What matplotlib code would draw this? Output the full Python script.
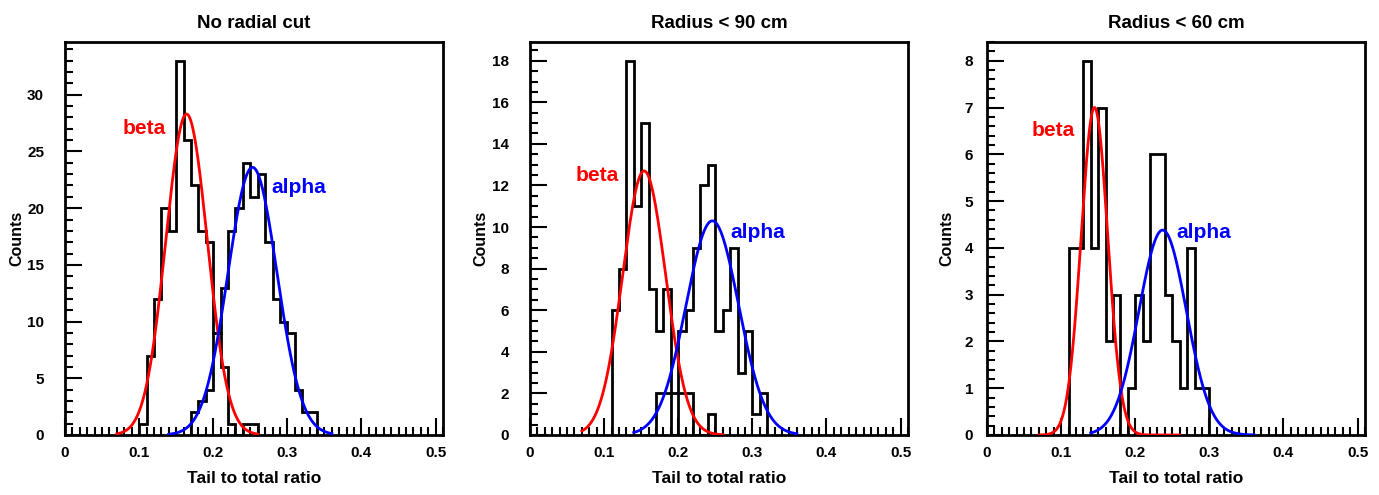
import numpy as np
import matplotlib
matplotlib.use("Agg")
import matplotlib.pyplot as plt
from matplotlib.ticker import MultipleLocator

plt.rcParams['font.family'] = ['Liberation Sans', 'DejaVu Sans']
plt.rcParams['font.weight'] = 'bold'

# panel titles
titles = ["No radial cut", "Radius < 90 cm", "Radius < 60 cm"]

# histogram contents, bin width 0.01, first bin lower edge given
beta_start = [0.10, 0.11, 0.11]
beta_counts = [
    [1, 7, 12, 20, 18, 33, 26, 22, 18, 17, 9, 6, 1, 0, 1, 1],
    [6, 8, 18, 11, 15, 7, 5, 7, 2, 2, 2, 0, 0, 1],
    [4, 4, 8, 4, 7, 2, 3],
]
alpha_start = [0.17, 0.17, 0.18]
alpha_counts = [
    [2, 3, 4, 9, 13, 18, 20, 24, 21, 23, 17, 12, 10, 9, 4, 2, 2],
    [2, 2, 0, 5, 6, 9, 12, 13, 5, 6, 9, 3, 5, 1, 2],
    [0, 1, 3, 2, 6, 6, 3, 2, 1, 4, 1, 1],
]

# gaussian fits: amplitude, mean, sigma
beta_fit = [(28.3, 0.164, 0.028), (12.7, 0.154, 0.029), (7.0, 0.145, 0.018)]
alpha_fit = [(23.6, 0.253, 0.033), (10.3, 0.246, 0.0355), (4.38, 0.237, 0.032)]
beta_range = (0.07, 0.26)
alpha_range = (0.14, 0.36)

# label positions (data coords)
beta_lbl = [(0.078, 27.0), (0.061, 12.5), (0.060, 6.5)]
alpha_lbl = [(0.278, 21.8), (0.271, 9.75), (0.256, 4.32)]

ymax = [34.65, 18.9, 8.4]
ymajor = [5, 2, 1]
yminor = [1, 0.5, 0.2]
ypad = [15, 15, 10]
ylab_x = [-0.108, -0.111, -0.087]

W, H = 1379, 495
fig = plt.figure(figsize=(W / 100, H / 100), dpi=100)
lefts = [65, 530, 987]
width = 378
top, bottom = 42, 435


def gauss(x, a, m, s):
    return a * np.exp(-0.5 * ((x - m) / s) ** 2)


for i in range(3):
    ax = fig.add_axes([lefts[i] / W, 1 - bottom / H, width / W, (bottom - top) / H])

    for start, counts in [(beta_start[i], beta_counts[i]), (alpha_start[i], alpha_counts[i])]:
        edges = start + 0.01 * np.arange(len(counts) + 1)
        ax.stairs(counts, edges, color='black', lw=2, zorder=2)

    xb = np.linspace(*beta_range, 300)
    ax.plot(xb, gauss(xb, *beta_fit[i]), color='red', lw=2, zorder=3)
    xa = np.linspace(*alpha_range, 300)
    ax.plot(xa, gauss(xa, *alpha_fit[i]), color='blue', lw=2, zorder=3)

    ax.text(*beta_lbl[i], "beta", color='red', fontsize=15, fontweight='bold',
            ha='left', va='center')
    ax.text(*alpha_lbl[i], "alpha", color='blue', fontsize=15, fontweight='bold',
            ha='left', va='center')

    ax.set_xlim(0, 0.51)
    ax.set_ylim(0, ymax[i])
    ax.xaxis.set_major_locator(MultipleLocator(0.1))
    ax.xaxis.set_minor_locator(MultipleLocator(0.01))
    ax.yaxis.set_major_locator(MultipleLocator(ymajor[i]))
    ax.yaxis.set_minor_locator(MultipleLocator(yminor[i]))
    ax.xaxis.set_major_formatter(plt.FuncFormatter(lambda v, p: "0" if abs(v) < 1e-9 else f"{v:.1f}"))
    ax.yaxis.set_major_formatter(plt.FuncFormatter(lambda v, p: f"{v:g}"))

    ax.tick_params(which='both', direction='in', top=False, right=False, width=1.5, labelsize=11)
    ax.tick_params(which='major', length=12)
    ax.tick_params(which='minor', length=6)
    ax.tick_params(axis='x', pad=8)
    ax.tick_params(axis='y', pad=ypad[i])
    for sp in ax.spines.values():
        sp.set_linewidth(2)

    ax.set_title(titles[i], fontsize=13.5, fontweight='bold', pad=10)
    ax.set_xlabel("Tail to total ratio", fontsize=12.5, fontweight='bold', labelpad=8)
    ax.set_ylabel("Counts", fontsize=11.5, fontweight='bold')
    ax.yaxis.set_label_coords(ylab_x[i], 0.5)

fig.savefig("out.png", dpi=100)
